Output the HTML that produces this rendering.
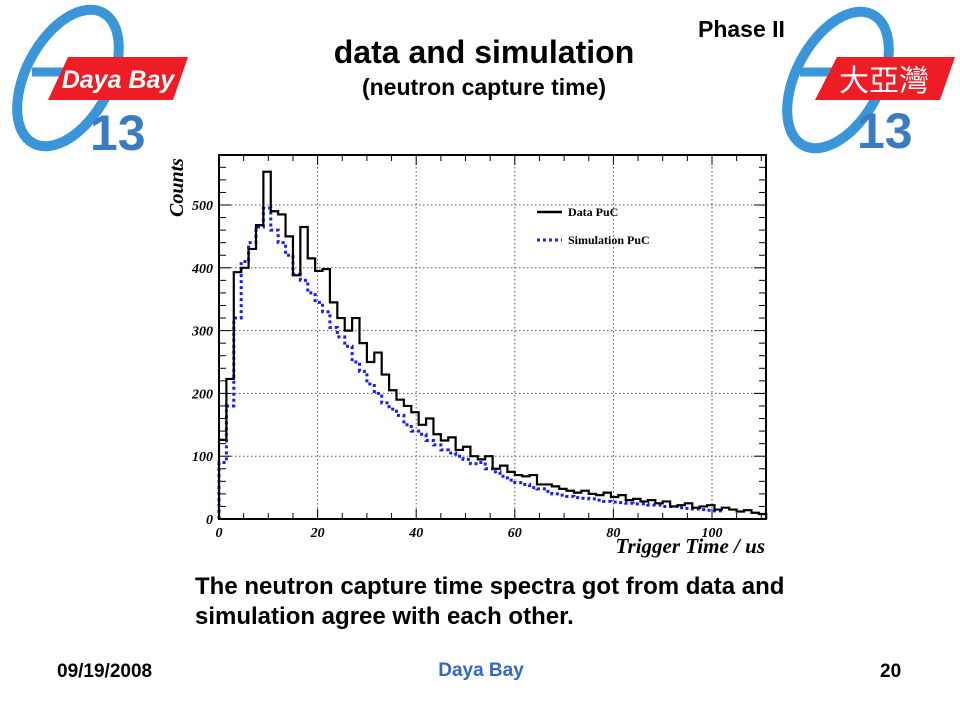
<!DOCTYPE html>
<html><head><meta charset="utf-8"><style>
body{margin:0;background:#fff;width:960px;height:720px;overflow:hidden;position:relative;font-family:"Liberation Sans",sans-serif}
.t{position:absolute;font-weight:bold;color:#000;white-space:nowrap}
</style></head><body>
<svg width="960" height="720" style="position:absolute;left:0;top:0">
 <g>
  <ellipse cx="68" cy="78" rx="42" ry="74" transform="rotate(28 68 78)" fill="none" stroke="#3a96d8" stroke-width="10"/>
  <line x1="32" y1="72" x2="80" y2="72" stroke="#3a96d8" stroke-width="9"/>
  <polygon points="68,57 188,57 173,100 48,100" fill="#ee1c25"/>
  <text x="118" y="88" text-anchor="middle" font-family="Liberation Sans" font-weight="bold" font-style="italic" font-size="25" fill="#fff">Daya Bay</text>
  <text x="90" y="150" font-family="Liberation Sans" font-weight="bold" font-size="50" fill="#3a7cc4">13</text>
 </g>
 <g>
  <ellipse cx="838" cy="80" rx="42" ry="74" transform="rotate(28 838 80)" fill="none" stroke="#3a96d8" stroke-width="10"/>
  <line x1="800" y1="72" x2="850" y2="72" stroke="#3a96d8" stroke-width="9"/>
  <polygon points="837,57 955,57 940,100 815,100" fill="#ee1c25"/>
  <text x="884" y="91" text-anchor="middle" font-family="Noto Sans CJK TC,sans-serif" font-size="30" fill="#fff">大亞灣</text>
  <text x="857" y="148" font-family="Liberation Sans" font-weight="bold" font-size="50" fill="#3a7cc4">13</text>
 </g>
 <g id="chart"></g>
</svg>
<div class="t" style="left:698px;top:16px;font-size:23px">Phase II</div>
<div class="t" style="left:284px;width:400px;text-align:center;top:34px;font-size:32px">data and simulation</div>
<div class="t" style="left:284px;width:400px;text-align:center;top:74px;font-size:23px">(neutron capture time)</div>
<div class="t" style="left:195px;top:572px;font-size:24px;line-height:30px">The neutron capture time spectra got from data and<br>simulation agree with each other.</div>
<div class="t" style="left:57px;top:661px;font-size:19px">09/19/2008</div>
<div class="t" style="left:381px;width:200px;text-align:center;top:660px;font-size:19px;color:#3366cc">Daya Bay</div>
<div class="t" style="left:880px;top:661px;font-size:19px">20</div>
<script>
const binWidth = 1.5;
const dataCounts = [126,223,393,400,430,468,553,490,485,450,388,465,415,395,398,345,320,300,320,280,250,265,230,205,190,180,170,150,160,135,125,130,110,115,100,95,100,80,85,75,70,68,70,55,55,52,48,45,42,45,40,38,42,35,38,30,32,28,30,25,28,20,22,25,18,20,22,15,18,15,12,14,10,8];
const simCounts = [90,180,320,410,440,465,495,460,440,420,390,380,360,345,330,305,290,275,250,235,215,200,185,175,165,150,140,135,125,118,110,105,100,95,88,90,80,75,68,62,58,55,50,48,44,40,38,36,34,33,32,30,28,27,26,25,24,24,22,22,20,20,18,17,16,15,14,13];
const xTicks = [0,20,40,60,80,100];
const yTicks = [0,100,200,300,400,500];
const NS='http://www.w3.org/2000/svg';
const g=document.getElementById('chart');
const X0=219,XS=4.93,Y0=519,YS=0.628,L=219,R=766,T=155,B=519;
const sx=v=>X0+v*XS, sy=v=>Y0-v*YS;
function el(t,a,p){const e=document.createElementNS(NS,t);for(const k in a)e.setAttribute(k,a[k]);(p||g).appendChild(e);return e;}
xTicks.forEach(v=>{if(v>0){const l=el('line',{x1:sx(v),x2:sx(v),y1:T,y2:B,stroke:'#555','stroke-width':1,'stroke-dasharray':'1.5,2.5'});

}});
yTicks.forEach(v=>{if(v>0){const l=el('line',{x1:L,x2:R,y1:sy(v),y2:sy(v),stroke:'#555','stroke-width':1,'stroke-dasharray':'1.5,2.5'});

}});
for(let v=0;v<=110;v+=5){const len=v%20==0?10:6;el('line',{x1:sx(v),x2:sx(v),y1:B,y2:B-len,stroke:'#000','stroke-width':1});el('line',{x1:sx(v),x2:sx(v),y1:T,y2:T+len,stroke:'#000','stroke-width':1});}
for(let v=0;v<=580;v+=20){const len=v%100==0?12:7;el('line',{x1:L,x2:L+len,y1:sy(v),y2:sy(v),stroke:'#000','stroke-width':1});el('line',{x1:R,x2:R-len,y1:sy(v),y2:sy(v),stroke:'#000','stroke-width':1});}
function hist(arr){let d='M'+sx(0)+','+sy(0);arr.forEach((v,i)=>{d+=' L'+sx(i*binWidth)+','+sy(v)+' L'+sx((i+1)*binWidth)+','+sy(v);});return d;}
const sim=el('path',{d:hist(simCounts),fill:'none',stroke:'#1a1aff','stroke-width':3,'stroke-dasharray':'3,3'});


const dat=el('path',{d:hist(dataCounts)+' L'+sx(dataCounts.length*binWidth)+','+sy(0),fill:'none',stroke:'#000','stroke-width':2.2});


const fr=el('rect',{x:L,y:T,width:R-L,height:B-T,fill:'none',stroke:'#000','stroke-width':2});


const tf='font-family:"Liberation Serif",serif;font-weight:bold;font-style:italic;font-size:14px';
xTicks.forEach(v=>{const t=el('text',{x:sx(v),y:537,'text-anchor':'middle',style:tf});t.textContent=v;

});
yTicks.forEach(v=>{const t=el('text',{x:213,y:sy(v)+5,'text-anchor':'end',style:tf});t.textContent=v;

});
const xt=el('text',{x:765,y:553,'text-anchor':'end',style:'font-family:"Liberation Serif",serif;font-weight:bold;font-style:italic;font-size:21px'});xt.textContent='Trigger Time / us';


const yt=el('text',{x:0,y:0,transform:'translate(183,217) rotate(-90)',style:'font-family:"Liberation Serif",serif;font-weight:bold;font-style:italic;font-size:20px'});yt.textContent='Counts';


const lg=el('g',{});


el('line',{x1:537,x2:562,y1:212,y2:212,stroke:'#000','stroke-width':2.5},lg);
const l1=el('text',{x:568,y:216,style:'font-family:"Liberation Serif",serif;font-weight:bold;font-size:12px'},lg);l1.textContent='Data PuC';


el('line',{x1:537,x2:562,y1:240,y2:240,stroke:'#1a1aff','stroke-width':3,'stroke-dasharray':'3,3'},lg);
const l2=el('text',{x:568,y:244,style:'font-family:"Liberation Serif",serif;font-weight:bold;font-size:12px'},lg);l2.textContent='Simulation PuC';


</script>
</body></html>
